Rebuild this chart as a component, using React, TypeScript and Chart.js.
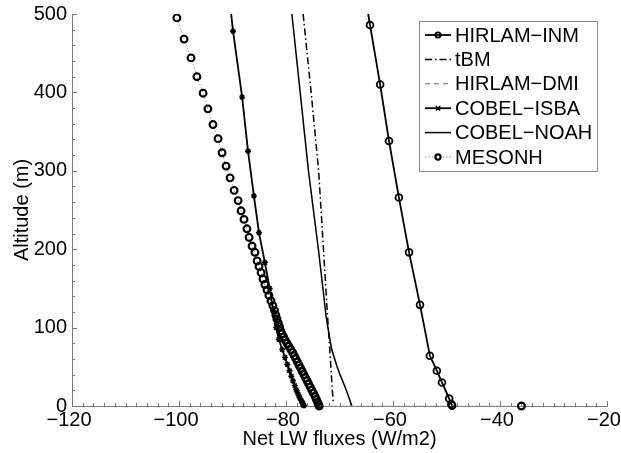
import React, { useEffect, useRef } from 'react';
import { Chart, registerables } from 'chart.js';

Chart.register(...registerables);

// ---- data ----
const seriesNames = ['HIRLAM−INM', 'tBM', 'HIRLAM−DMI', 'COBEL−ISBA', 'COBEL−NOAH', 'MESONH'];

const xTickValues = [-120, -100, -80, -60, -40, -20];
const yTickValues = [0, 100, 200, 300, 400, 500];

const inmAlt = [560, 486, 410, 338, 266, 196, 129, 64, 45, 30, 9.5, 2.5, 0.5];
const inmFlux = [-66.1, -64.3, -62.4, -60.75, -58.9, -57.0, -54.95, -53.1, -51.8, -50.85, -49.5, -49.1, -48.95];

const tbmAlt = [500, 400, 300, 200, 127, 60, 20, 5];
const tbmFlux = [-76.8, -75.3, -73.9, -73.0, -72.35, -71.7, -71.35, -71.15];

// HIRLAM-DMI: listed in the legend, no curve visible in the plot
const dmiAlt: number[] = [];
const dmiFlux: number[] = [];

const isbaAlt = [560, 478, 394, 325, 268, 221, 183, 150, 122, 100, 85, 72, 62, 53, 45, 38, 32, 26, 21, 17, 13, 10, 7, 5, 3, 1.5, 0.5];
const isbaFlux = [-91.2, -89.9, -88.2, -87.1, -86.0, -85.05, -83.95, -83.05, -82.4, -81.85, -81.35, -80.7, -80.2, -79.75, -79.35, -79.0, -78.7, -78.35, -78.1, -77.85, -77.6, -77.4, -77.15, -77.0, -76.85, -76.75, -76.65];

const noahAlt = [500, 400, 300, 200, 150, 114, 89, 72, 50, 40, 25, 15, 5, 0.5];
const noahFlux = [-78.9, -77.35, -75.8, -73.95, -73.1, -72.5, -71.9, -71.45, -70.45, -69.9, -69.0, -68.45, -67.95, -67.7];

const mesonhAlt = [495, 468, 444, 420, 399, 379, 359, 341, 323, 306, 291, 275, 262, 249, 238, 226, 215, 204, 196, 185, 178, 170, 162, 155, 148, 141, 134, 128, 122, 116, 111, 106, 101, 96, 92, 88, 84, 80, 76, 72, 68, 64, 60, 56, 52, 48, 44, 40, 36, 32, 28, 24, 20, 16, 12, 8, 5, 2, 0, 0];
const mesonhFlux = [-100.4, -99.05, -97.75, -96.65, -95.5, -94.6, -93.65, -92.7, -91.95, -91.2, -90.45, -89.7, -88.95, -88.4, -87.85, -87.3, -86.9, -86.35, -85.8, -85.4, -85.05, -84.65, -84.3, -83.95, -83.55, -83.2, -82.8, -82.45, -82.15, -81.9, -81.7, -81.45, -81.2, -81.0, -80.75, -80.45, -80.15, -79.8, -79.45, -79.1, -78.75, -78.45, -78.15, -77.85, -77.55, -77.25, -76.95, -76.65, -76.35, -76.05, -75.75, -75.45, -75.15, -74.85, -74.55, -74.3, -74.1, -73.9, -73.8, -36.0];

const xMin = -120, xMax = -20, xMinor = 2;
const yMin = 0, yMax = 500, yMinor = 20;

const FONT = "'Liberation Sans', Arial, Helvetica, sans-serif";

const toPts = (xs: number[], ys: number[]) => xs.map((v, i) => ({ x: v, y: ys[i] }));
const fmt = (v: number) => (v < 0 ? '\u2212' + Math.abs(v) : String(v));

const inwardTicks = {
  id: 'inwardTicks',
  beforeDatasetsDraw(chart: any) {
    const { ctx, chartArea: a, scales } = chart;
    const x = scales.x, y = scales.y;
    ctx.save();
    ctx.strokeStyle = '#7a7a7a';
    ctx.lineWidth = 1;
    ctx.beginPath();
    for (let v = xMin; v <= xMax + 1e-9; v += xMinor) {
      const px = Math.round(x.getPixelForValue(v)) + 0.5;
      const major = xTickValues.some(t => Math.abs(t - v) < 1e-6);
      ctx.moveTo(px, a.bottom);
      ctx.lineTo(px, a.bottom - (major ? 5 : 3));
    }
    for (let v = yMin; v <= yMax + 1e-9; v += yMinor) {
      const py = Math.round(y.getPixelForValue(v)) + 0.5;
      const major = yTickValues.some(t => Math.abs(t - v) < 1e-6);
      ctx.moveTo(a.left, py);
      ctx.lineTo(a.left + (major ? 5 : 3), py);
    }
    ctx.stroke();
    ctx.restore();
  },
};

function drawMarker(ctx: CanvasRenderingContext2D, style: string, cx: number, cy: number, r: number) {
  ctx.beginPath();
  if (style === 'circle') {
    ctx.arc(cx, cy, r, 0, Math.PI * 2);
  } else if (style === 'star') {
    ctx.moveTo(cx - r, cy - r); ctx.lineTo(cx + r, cy + r);
    ctx.moveTo(cx - r, cy + r); ctx.lineTo(cx + r, cy - r);
    ctx.moveTo(cx - r, cy); ctx.lineTo(cx + r, cy);
  }
  ctx.stroke();
}

const boxLegend = {
  id: 'boxLegend',
  afterDraw(chart: any) {
    const { ctx } = chart;
    const left = 419.5, top = 21.5, w = 178, h = 150;
    ctx.save();
    ctx.fillStyle = '#ffffff';
    ctx.fillRect(left, top, w, h);
    ctx.strokeStyle = '#8c8c8c';
    ctx.lineWidth = 1;
    ctx.strokeRect(left, top, w, h);
    ctx.font = `20px ${FONT}`;
    ctx.textBaseline = 'middle';
    ctx.textAlign = 'left';
    chart.data.datasets.forEach((ds: any, i: number) => {
      const cy = 35 + i * 24.4;
      ctx.save();
      ctx.strokeStyle = ds.borderColor;
      ctx.lineWidth = ds.borderWidth;
      ctx.setLineDash(ds.borderDash || []);
      ctx.beginPath();
      ctx.moveTo(425, cy);
      ctx.lineTo(451, cy);
      ctx.stroke();
      ctx.setLineDash([]);
      if (ds.pointRadius > 0) {
        ctx.strokeStyle = ds.pointBorderColor;
        ctx.lineWidth = ds.pointBorderWidth;
        drawMarker(ctx, ds.pointStyle, 438, cy, ds.pointStyle === 'circle' ? 2.6 : 2.2);
      }
      ctx.restore();
      ctx.fillStyle = '#000';
      ctx.fillText(ds.label, 455, cy + 1);
    });
    ctx.restore();
  },
};

export default function App() {
  const ref = useRef<HTMLCanvasElement>(null);

  useEffect(() => {
    document.body.style.margin = '0';
    const clipBox = { left: 6, top: 0, right: 6, bottom: 8 };
    const chart = new Chart(ref.current!, {
      type: 'scatter',
      data: {
        datasets: [
          {
            label: seriesNames[0], data: toPts(inmFlux, inmAlt), showLine: true,
            borderColor: '#000', borderWidth: 1.8, pointStyle: 'circle', pointRadius: 3.4,
            pointBorderWidth: 1.8, pointBorderColor: '#000', pointBackgroundColor: 'rgba(0,0,0,0)', clip: clipBox,
          },
          {
            label: seriesNames[1], data: toPts(tbmFlux, tbmAlt), showLine: true,
            borderColor: '#000', borderWidth: 1.5, borderDash: [7, 3, 1.5, 3], pointRadius: 0, clip: clipBox,
          },
          {
            label: seriesNames[2], data: toPts(dmiFlux, dmiAlt), showLine: true,
            borderColor: '#666', borderWidth: 1, borderDash: [5, 4], pointRadius: 0, clip: clipBox,
          },
          {
            label: seriesNames[3], data: toPts(isbaFlux, isbaAlt), showLine: true,
            borderColor: '#000', borderWidth: 1.8, pointStyle: 'star', pointRadius: 3,
            pointBorderWidth: 1.4, pointBorderColor: '#000', pointBackgroundColor: '#000', clip: clipBox,
          },
          {
            label: seriesNames[4], data: toPts(noahFlux, noahAlt), showLine: true,
            borderColor: '#000', borderWidth: 1.5, pointRadius: 0, clip: clipBox,
          },
          {
            label: seriesNames[5], data: toPts(mesonhFlux, mesonhAlt), showLine: true,
            borderColor: '#9a9a9a', borderWidth: 1, borderDash: [1.5, 2], pointStyle: 'circle', pointRadius: 3.4,
            pointBorderWidth: 2.1, pointBorderColor: '#000', pointBackgroundColor: 'rgba(0,0,0,0)', clip: clipBox,
          },
        ],
      },
      options: {
        animation: false,
        responsive: false,
        maintainAspectRatio: false,
        layout: { padding: { top: 14, right: 14, left: 0, bottom: 0 } },
        plugins: { legend: { display: false }, tooltip: { enabled: false } },
        elements: { line: { tension: 0 } },
        scales: {
          x: {
            type: 'linear', min: xMin, max: xMax,
            afterFit: (s: any) => { s.height = 47; s.paddingLeft = 0; s.paddingRight = 0; },
            afterBuildTicks: (s: any) => { s.ticks = xTickValues.map(v => ({ value: v })); },
            ticks: { callback: (v: any) => fmt(Number(v)), color: '#000', font: { family: FONT, size: 20 }, padding: 2, labelOffset: -3, maxRotation: 0, autoSkip: false },
            grid: { display: true, drawOnChartArea: false, drawTicks: false },
            border: { display: true, color: '#7a7a7a', width: 1 },
            title: { display: true, text: 'Net LW fluxes (W/m2)', color: '#000', font: { family: FONT, size: 20 }, padding: { top: 0, bottom: 2 } },
          },
          y: {
            type: 'linear', min: yMin, max: yMax,
            afterFit: (s: any) => { s.width = 72; s.paddingTop = 0; s.paddingBottom = 0; },
            afterBuildTicks: (s: any) => { s.ticks = yTickValues.map(v => ({ value: v })); },
            ticks: { callback: (v: any) => fmt(Number(v)), color: '#000', font: { family: FONT, size: 20 }, padding: 5, autoSkip: false },
            grid: { display: true, drawOnChartArea: false, drawTicks: false },
            border: { display: true, color: '#7a7a7a', width: 1 },
            title: { display: true, text: 'Altitude (m)', color: '#000', font: { family: FONT, size: 20 }, padding: { top: 10, bottom: 0 } },
          },
        },
      },
      plugins: [inwardTicks, boxLegend],
    } as any);
    return () => chart.destroy();
  }, []);

  return (
    <div style={{ width: 621, height: 453 }}>
      <canvas ref={ref} width={621} height={453} style={{ display: 'block' }} />
    </div>
  );
}
